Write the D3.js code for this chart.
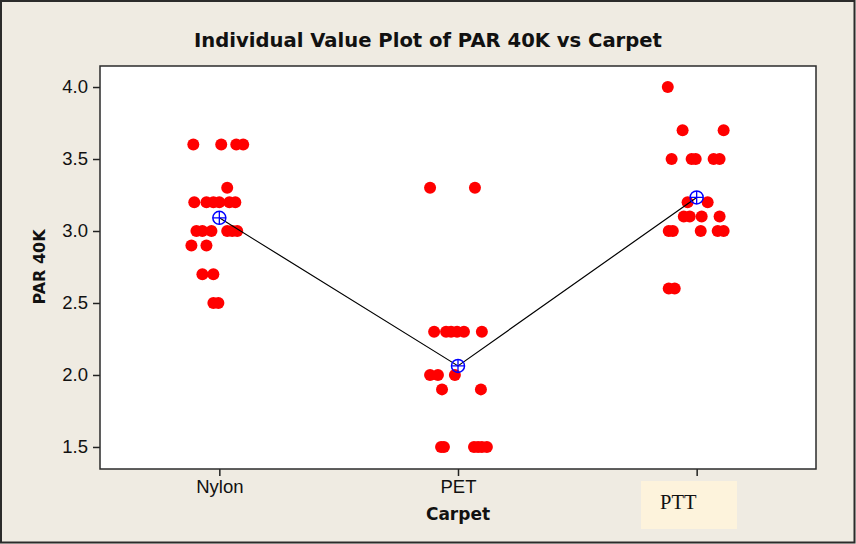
<!DOCTYPE html>
<html>
<head>
<meta charset="utf-8">
<script src="https://cdn.jsdelivr.net/npm/d3@7"></script>
<style>
    body { margin: 0; background: #EFEBE2; }
    svg { display: block; }
    .tick text { font-family: "Liberation Sans", Arial, sans-serif; font-size: 18.5px; fill: #111; }
    .tick line { stroke: #222; stroke-width: 1.5; }
    .title, .label { font-family: "DejaVu Sans", Verdana, sans-serif; font-weight: bold; fill: #111; }
</style>
</head>
<body>
<svg id="chart" width="856" height="544"></svg>
<script>

/*    ========    DATA    =========    */

var categories = ["Nylon", "PET", "PTT"];

// PAR 40K values per carpet type
var nylonValues = [3.6, 3.6, 3.6, 3.6, 3.3, 3.2, 3.2, 3.2, 3.2, 3.2, 3.2,
                   3.0, 3.0, 3.0, 3.0, 3.0, 3.0, 2.9, 2.9, 2.7, 2.7, 2.5, 2.5];
var petValues   = [3.3, 3.3, 2.3, 2.3, 2.3, 2.3, 2.3, 2.3, 2.0, 2.0, 2.0,
                   1.9, 1.9, 1.5, 1.5, 1.5, 1.5, 1.5, 1.5];
var pttValues   = [4.0, 3.7, 3.7, 3.5, 3.5, 3.5, 3.5, 3.5, 3.2, 3.2,
                   3.1, 3.1, 3.1, 3.1, 3.0, 3.0, 3.0, 3.0, 3.0, 2.6, 2.6];

// horizontal jitter of each point, in category units (as drawn by the plot)
var nylonJitter = [-0.109, 0.008, 0.071, 0.100, 0.033, -0.105, -0.054, -0.025, 0.000, 0.042, 0.067,
                   -0.096, -0.071, -0.033, 0.033, 0.054, 0.075, -0.117, -0.054, -0.071, -0.025, -0.025, -0.004];
var petJitter   = [-0.117, 0.071, -0.100, -0.050, -0.029, -0.004, 0.025, 0.100, -0.117, -0.084, -0.013,
                   -0.067, 0.096, -0.071, -0.059, 0.067, 0.084, 0.100, 0.121];
var pttJitter   = [-0.121, -0.059, 0.113, -0.105, -0.021, -0.004, 0.071, 0.096, -0.038, 0.046,
                   -0.054, -0.029, 0.021, 0.096, -0.117, -0.100, 0.017, 0.088, 0.113, -0.117, -0.092];

var yTicks = [1.5, 2.0, 2.5, 3.0, 3.5, 4.0];
var Y_RANGE = [1.347, 4.146];

/*    ========    SETTINGS    =========    */

var svg = d3.select("#chart");
var width = 856;
var height = 544;
var margin = {top: 66, right: 40, bottom: 75, left: 100};
var plotW = width - margin.left - margin.right;
var plotH = height - margin.top - margin.bottom;

var groups = [
    {name: categories[0], values: nylonValues, jitter: nylonJitter},
    {name: categories[1], values: petValues, jitter: petJitter},
    {name: categories[2], values: pttValues, jitter: pttJitter}
];

var scale_x = d3.scalePoint()
    .domain(categories)
    .range([margin.left, margin.left + plotW])
    .padding(0.5);
var step = scale_x.step();

var scale_y = d3.scaleLinear()
    .domain(Y_RANGE)
    .range([margin.top + plotH, margin.top]);

/*    ========    FRAME    =========    */

svg.append("rect")
    .attr("x", 1).attr("y", 1)
    .attr("width", width - 2.5).attr("height", height - 2.5)
    .attr("fill", "#EFEBE2")
    .attr("stroke", "#2b2b2b")
    .attr("stroke-width", 2);

svg.append("rect")
    .attr("x", margin.left).attr("y", margin.top)
    .attr("width", plotW).attr("height", plotH)
    .attr("fill", "#fff");

svg.append("text")
    .attr("class", "title")
    .attr("x", 428).attr("y", 47)
    .attr("text-anchor", "middle")
    .style("font-size", "19.6px")
    .text("Individual Value Plot of PAR 40K vs Carpet");

/*    ========    AXES    =========    */

svg.append("g")
    .attr("transform", "translate(" + margin.left + ",0)")
    .call(d3.axisLeft(scale_y)
        .tickValues(yTicks)
        .tickFormat(d3.format(".1f"))
        .tickSize(7)
        .tickPadding(5))
    .call(function(g) { g.select(".domain").remove(); });

// the PTT tick label sits under a pasted text box, so only the box text shows
svg.append("g")
    .attr("transform", "translate(0," + (margin.top + plotH) + ")")
    .call(d3.axisBottom(scale_x)
        .tickSize(7)
        .tickPadding(4))
    .call(function(g) { g.select(".domain").remove(); })
    .call(function(g) {
        g.selectAll(".tick text").filter(function(d) { return d === categories[2]; }).remove();
    });

svg.append("text")
    .attr("class", "label")
    .attr("transform", "translate(45,267) rotate(-90)")
    .attr("text-anchor", "middle")
    .style("font-size", "16px")
    .text("PAR 40K");

svg.append("text")
    .attr("class", "label")
    .attr("x", scale_x(categories[1])).attr("y", 520)
    .attr("text-anchor", "middle")
    .style("font-size", "17px")
    .text("Carpet");

// pasted text box over the PTT label
var box = svg.append("g");
box.append("rect")
    .attr("x", 641).attr("y", 481)
    .attr("width", 96).attr("height", 48)
    .attr("fill", "#FDF3DC");
box.append("text")
    .attr("x", 660).attr("y", 509)
    .style("font-family", "'Liberation Serif', 'Times New Roman', serif")
    .style("font-size", "20.5px")
    .attr("fill", "#111")
    .text(categories[2]);

/*    ========    POINTS    =========    */

var plots = svg.append("g").attr("id", "plots");

groups.forEach(function(grp) {
    plots.selectAll(null)
        .data(grp.values)
        .enter().append("circle")
        .attr("cx", function(d, i) { return scale_x(grp.name) + grp.jitter[i] * step; })
        .attr("cy", function(d) { return scale_y(d); })
        .attr("r", 6)
        .attr("fill", "#FF0000");
});

// == Mean connect line == //
var means = groups.map(function(grp) {
    return {name: grp.name, mean: d3.mean(grp.values)};
});

var line_mean = d3.line()
    .x(function(d) { return scale_x(d.name); })
    .y(function(d) { return scale_y(d.mean); });

plots.append("path")
    .datum(means)
    .attr("d", line_mean)
    .attr("fill", "none")
    .attr("stroke", "#000")
    .attr("stroke-width", 1.2);

var marks = plots.selectAll(".meanMark")
    .data(means)
    .enter().append("g")
    .attr("class", "meanMark")
    .attr("transform", function(d) {
        return "translate(" + scale_x(d.name) + "," + scale_y(d.mean) + ")";
    });

marks.append("circle")
    .attr("r", 6.5)
    .attr("fill", "none")
    .attr("stroke", "#0000FF")
    .attr("stroke-width", 1.5);
marks.append("path")
    .attr("d", "M-6.5,0H6.5M0,-6.5V6.5")
    .attr("stroke", "#0000FF")
    .attr("stroke-width", 1.3);

// plot border on top
svg.append("rect")
    .attr("x", margin.left).attr("y", margin.top)
    .attr("width", plotW).attr("height", plotH)
    .attr("fill", "none")
    .attr("stroke", "#2b2b2b")
    .attr("stroke-width", 1.5);

</script>
</body>
</html>
